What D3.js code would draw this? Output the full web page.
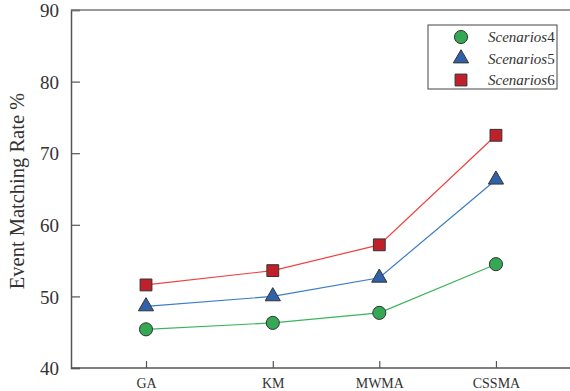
<!DOCTYPE html>
<html>
<head>
<meta charset="utf-8">
<script src="https://cdn.jsdelivr.net/npm/d3@7"></script>
<style>
  body { margin: 0; background: #fff; }
  svg { display: block; }
</style>
</head>
<body>
<script>
var categories = ["GA", "KM", "MWMA", "CSSMA"];
// category positions along the x axis (uneven in the original)
var catPos = [1, 2, 2.84, 3.76];
var yTicks = [40, 50, 60, 70, 80, 90];
var scen4 = [45.4, 46.3, 47.7, 54.5];
var scen5 = [48.6, 50.0, 52.6, 66.3];
var scen6 = [51.6, 53.6, 57.2, 72.5];
var seriesNames = ["4", "5", "6"];

(function(){
	var W = 570, H = 391,
	    m = {l: 71, t: 10, r: 0, b: 23},
	    serif = "'Liberation Serif', 'DejaVu Serif', 'Times New Roman', serif";
	var svg = d3.select("body").append("svg").attr("width", W).attr("height", H)
		.style("font-family", serif);
	var g = svg.append("g").attr("transform", "translate(" + m.l + "," + m.t + ")");
	var iw = W - m.l - m.r, ih = H - m.t - m.b;

	var x = d3.scaleLinear().domain([0.4085, 4.344]).range([0, iw]);
	var y = d3.scaleLinear().domain([40, 90]).range([ih, 0]);

	var series = [
		{name: seriesNames[0], vals: scen4, line: "#3cb55a", fill: "#34a853", sym: d3.symbolCircle, size: 135},
		{name: seriesNames[1], vals: scen5, line: "#3a7cc4", fill: "#2f62a8", sym: d3.symbolTriangle, size: 100},
		{name: seriesNames[2], vals: scen6, line: "#f04040", fill: "#c0202a", sym: d3.symbolSquare, size: 140}
	];

	// axes
	var yAxis = d3.axisLeft(y).tickValues(yTicks).tickSize(-9).tickPadding(12);
	var ya = g.append("g").call(yAxis).attr("font-family", null);
	ya.select(".domain").attr("stroke", "#555").attr("stroke-width", 1.5);
	ya.selectAll(".tick line").attr("stroke", "#555").attr("stroke-width", 1.2);
	ya.selectAll("text").style("font-family", serif).style("font-size", "19px").attr("fill", "#333").attr("dy", "0.35em");

	var xAxis = d3.axisBottom(x).tickValues(catPos).tickFormat(function(d, i){ return categories[i]; })
		.tickSize(-7).tickPadding(10);
	var xa = g.append("g").attr("transform", "translate(0," + ih + ")").call(xAxis).attr("font-family", null);
	xa.select(".domain").attr("d", "M0,0H" + iw).attr("stroke", "#555").attr("stroke-width", 1.5);
	xa.selectAll(".tick line").attr("stroke", "#555").attr("stroke-width", 1.2);
	xa.selectAll("text").style("font-family", serif).style("font-size", "14px").attr("fill", "#333");

	// top line
	g.append("line").attr("x1", 0).attr("x2", iw).attr("y1", 0).attr("y2", 0)
		.attr("stroke", "#777").attr("stroke-width", 1.5);

	// y label
	svg.append("text").attr("transform", "translate(24," + (m.t + ih / 2 + 2) + ") rotate(-90)")
		.attr("text-anchor", "middle").style("font-family", serif).style("font-size", "20.5px")
		.attr("fill", "#333").text("Event Matching Rate %");

	var line = d3.line().x(function(d, i){ return x(catPos[i]); }).y(function(d){ return y(d); });

	series.forEach(function(s){
		g.append("path").datum(s.vals).attr("d", line).attr("fill", "none")
			.attr("stroke", s.line).attr("stroke-width", 1.2);
		g.selectAll(null).data(s.vals).enter().append("path")
			.attr("d", d3.symbol().type(s.sym).size(s.size))
			.attr("transform", function(d, i){ return "translate(" + x(catPos[i]) + "," + y(d) + ")"; })
			.attr("fill", s.fill).attr("stroke", "#333").attr("stroke-width", 1);
	});

	// legend
	var lg = svg.append("g").attr("transform", "translate(428,25)");
	lg.append("rect").attr("width", 129).attr("height", 64).attr("fill", "#fff")
		.attr("stroke", "#444").attr("stroke-width", 1);
	series.forEach(function(s, i){
		var ry = 12 + i * 21.5;
		lg.append("path").attr("d", d3.symbol().type(s.sym).size(s.size))
			.attr("transform", "translate(33," + ry + ")")
			.attr("fill", s.fill).attr("stroke", "#333").attr("stroke-width", 1);
		var t = lg.append("text").attr("x", 60).attr("y", ry).attr("dy", "0.35em")
			.style("font-family", serif).style("font-size", "15px").attr("fill", "#333");
		t.append("tspan").style("font-style", "italic").text("Scenarios");
		t.append("tspan").text(s.name);
	});
})();
</script>
</body>
</html>
